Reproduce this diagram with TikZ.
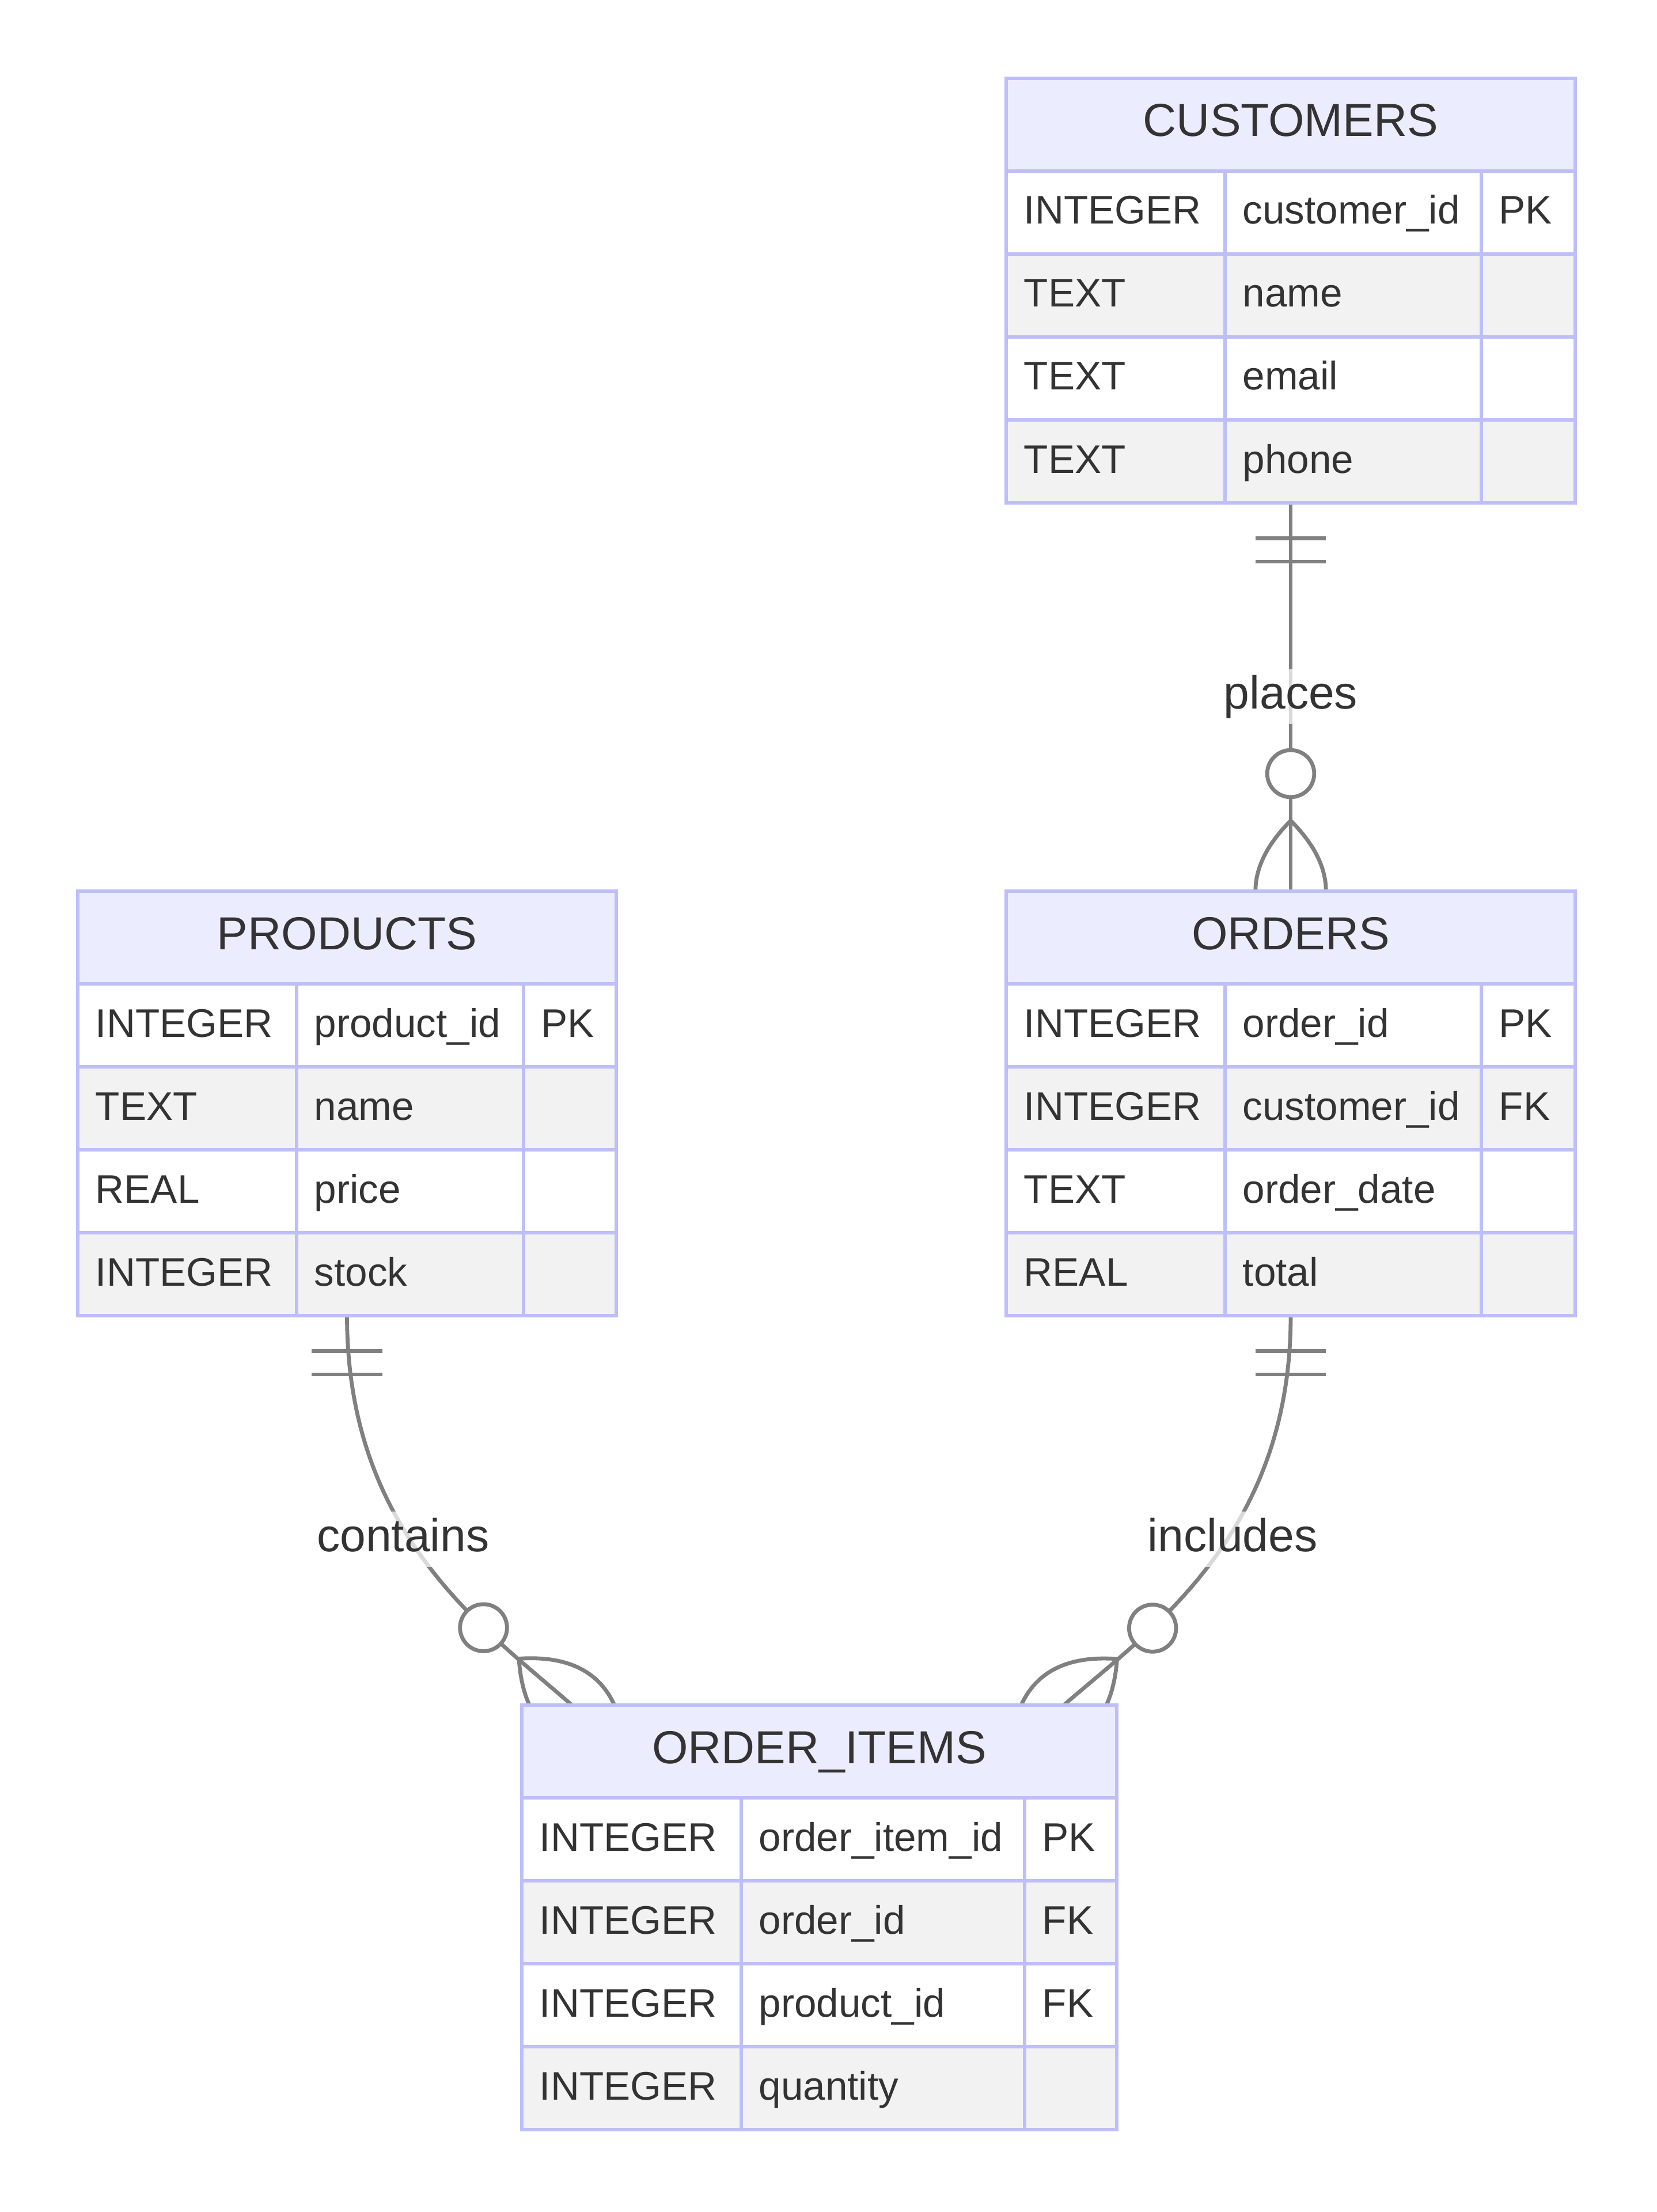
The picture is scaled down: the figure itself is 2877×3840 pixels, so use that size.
\documentclass[tikz,border=0pt]{standalone}
\usepackage{fontspec}
\setmainfont{Liberation Sans}
\usetikzlibrary{calc}

\definecolor{erborder}{RGB}{190,190,248}
\definecolor{erhead}{HTML}{ECECFF}
\definecolor{eralt}{HTML}{F2F2F2}
\definecolor{erline}{HTML}{808080}
\definecolor{ertext}{HTML}{333333}

\pgfdeclarelayer{under}
\pgfsetlayers{under,main}

\tikzset{
  rel/.style={draw=erline, line width=1.7pt},
  cellbox/.style={draw=erborder, line width=1.675pt},
  headcell/.style={cellbox, fill=erhead},
  oddcell/.style={cellbox, fill=white},
  evencell/.style={cellbox, fill=eralt},
  tablebox/.style={inner sep=0pt, outer sep=0pt},
  titletext/.style={inner sep=0pt, anchor=base, text=ertext, font=\fontsize{20.1}{24}\selectfont},
  attrtext/.style={inner sep=0pt, anchor=base west, text=ertext, font=\fontsize{17.3}{21}\selectfont},
  rellabel/.style={inner sep=0pt, fill=white, fill opacity=0.7, text opacity=1, text=ertext,
    text height=17.25pt, text depth=6.75pt, font=\fontsize{20.1}{24}\selectfont},
  % exactly-one mark at the start of a relationship (local x points along the line)
  onlyone/.pic={\draw[rel] (9,-9) -- (9,9) (15,-9) -- (15,9);},
  % zero-or-more mark at the end of a relationship (origin on the entity border)
  zeromany/.pic={
    \draw[rel, fill=white] (-30,0) circle (6);
    \draw[rel] (-18,0) .. controls (-6,-12) and (6,-12) .. (18,0)
               .. controls (6,12) and (-6,12) .. (-18,0);
  },
}

% entity box: name, column edges x0..x3, top y, title
\newcommand{\ertable}[7]{%
  \def\ertname{#1}\def\erxa{#2}\def\erxb{#3}\def\erxc{#4}\def\erxd{#5}\def\erya{#6}%
  \pgfmathsetmacro{\ertw}{(#5-#2)*0.25}%
  \node[tablebox, minimum width=\ertw pt, minimum height=184.25pt, anchor=north west] (#1) at (#2,#6) {};
  \draw[headcell] (#2,#6) rectangle (#5,{#6+161});
  \node[titletext] (#1-title) at ({(#2+#5)/2},{#6+101}) {#7};
}

% attribute row: index, cell style, type, attribute, key
\newcommand{\errow}[5]{%
  \pgfmathsetmacro{\ert}{\erya+161+(#1-1)*144}%
  \pgfmathsetmacro{\erb}{\ert+144}%
  \draw[#2] (\erxa,\ert) rectangle (\erxb,\erb);
  \draw[#2] (\erxb,\ert) rectangle (\erxc,\erb);
  \draw[#2] (\erxc,\ert) rectangle (\erxd,\erb);
  \node[attrtext] (\ertname-#1-type) at ({\erxa+30},{\ert+92}) {#3};
  \node[attrtext] (\ertname-#1-name) at ({\erxb+30},{\ert+92}) {#4};
  \node[attrtext] (\ertname-#1-key) at ({\erxc+30},{\ert+92}) {#5};
}

\begin{document}
\begin{tikzpicture}[x=0.25pt, y=-0.25pt]
\useasboundingbox (0,0) rectangle (2877,3840);

% ---------- entities ----------
\ertable{customers}{1747}{2127}{2572}{2735}{136}{CUSTOMERS}
\errow{1}{oddcell}{INTEGER}{customer\_id}{PK}
\errow{2}{evencell}{TEXT}{name}{}
\errow{3}{oddcell}{TEXT}{email}{}
\errow{4}{evencell}{TEXT}{phone}{}

\ertable{orders}{1747}{2127}{2572}{2735}{1547}{ORDERS}
\errow{1}{oddcell}{INTEGER}{order\_id}{PK}
\errow{2}{evencell}{INTEGER}{customer\_id}{FK}
\errow{3}{oddcell}{TEXT}{order\_date}{}
\errow{4}{evencell}{REAL}{total}{}

\ertable{products}{135}{515}{909}{1070}{1547}{PRODUCTS}
\errow{1}{oddcell}{INTEGER}{product\_id}{PK}
\errow{2}{evencell}{TEXT}{name}{}
\errow{3}{oddcell}{REAL}{price}{}
\errow{4}{evencell}{INTEGER}{stock}{}

\ertable{orderitems}{906}{1287}{1779}{1939}{2960}{ORDER\_ITEMS}
\errow{1}{oddcell}{INTEGER}{order\_item\_id}{PK}
\errow{2}{evencell}{INTEGER}{order\_id}{FK}
\errow{3}{oddcell}{INTEGER}{product\_id}{FK}
\errow{4}{evencell}{INTEGER}{quantity}{}

% ---------- relationships (kept beneath the entity boxes) ----------
\coordinate (oi-prod) at (993,2960);
\coordinate (oi-ord) at (1847,2960);

\begin{pgfonlayer}{under}
  \fill[white] (0,0) rectangle (2877,3840);

  \draw[rel] (customers.south) -- (orders.north);
  \draw[rel] (products.south) .. controls +(0,380) and +(-150.4,-131.8) .. (oi-prod);
  \draw[rel] (orders.south) .. controls +(0,380) and +(151,-131) .. (oi-ord);

  \pic[rotate=-90, scale=6.8] at (customers.south) {onlyone};
  \pic[rotate=-90, scale=6.8] at (products.south) {onlyone};
  \pic[rotate=-90, scale=6.8] at (orders.south) {onlyone};

  \pic[rotate=-90, scale=6.8] at (orders.north) {zeromany};
  \pic[rotate=-41.2, scale=6.8] at (oi-prod) {zeromany};
  \pic[rotate=-139.1, scale=6.8] at (oi-ord) {zeromany};

  \node[rellabel] (lbl-places) at (2241,1209) {places};
  \node[rellabel] (lbl-contains) at (700,2672) {contains};
  \node[rellabel] (lbl-includes) at (2140,2672) {includes};
\end{pgfonlayer}
\end{tikzpicture}
\end{document}
